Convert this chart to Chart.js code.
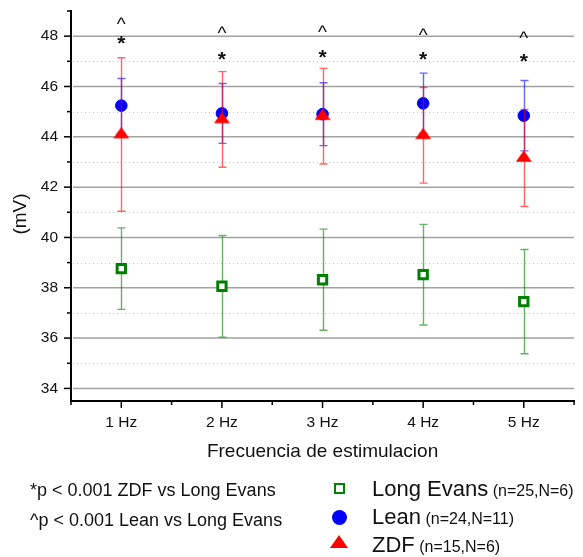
<!DOCTYPE html>
<html><head><meta charset="utf-8">
<script src="https://cdn.jsdelivr.net/npm/chart.js@4.4.1/dist/chart.umd.min.js"></script>
<style>
html,body{margin:0;padding:0;background:#fff;}
#wrap{position:relative;width:583px;height:557px;font-family:"Liberation Sans",Arial,sans-serif;color:#111;overflow:hidden;}
#c{position:absolute;left:0;top:0;}
.t{position:absolute;white-space:nowrap;line-height:1;transform:translateY(-50%);}
.note{left:30px;font-size:18px;}
.leg{left:372px;}
.big{font-size:22px;}
.small{font-size:16px;}
.mk{position:absolute;}
</style></head><body>
<div id="wrap">
<canvas id="c" width="583" height="557"></canvas>
<div class="t note" style="top:490px">*p &lt; 0.001 ZDF vs Long Evans</div>
<div class="t note" style="top:520px">^p &lt; 0.001 Lean vs Long Evans</div>
<div class="mk" style="left:334px;top:483px;width:7px;height:7px;border:2px solid #008000;background:#fff;"></div>
<div class="mk" style="left:331.5px;top:509.5px;width:15px;height:15px;border-radius:50%;background:#0000ff;"></div>
<div class="mk" style="left:330px;top:535px;width:0;height:0;border-left:9px solid transparent;border-right:9px solid transparent;border-bottom:13px solid #ff0000;"></div>
<div class="t leg" style="top:489px"><span class="big">Long Evans</span> <span class="small">(n=25,N=6)</span></div>
<div class="t leg" style="top:517px"><span class="big">Lean</span> <span class="small">(n=24,N=11)</span></div>
<div class="t leg" style="top:545px"><span class="big">ZDF</span> <span class="small">(n=15,N=6)</span></div>
</div>
<script>
// ---- data ----
const categories = ['1 Hz', '2 Hz', '3 Hz', '4 Hz', '5 Hz'];
const frequencies = [1, 2, 3, 4, 5];
const longEvansMean = [38.76, 38.06, 38.32, 38.52, 37.45];
const longEvansErr  = [1.62, 2.02, 2.01, 2.00, 2.07];
const leanMean = [45.24, 44.93, 44.90, 45.33, 44.84];
const leanErr  = [1.08, 1.19, 1.25, 1.20, 1.40];
const zdfMean = [44.09, 44.69, 44.82, 44.06, 43.16];
const zdfErr  = [3.05, 1.90, 1.90, 1.90, 1.93];
const yMajorTicks = [34, 36, 38, 40, 42, 44, 46, 48];
const yMinorTicks = [35, 37, 39, 41, 43, 45, 47, 49];
const xMinorTicks = [0.5, 1.5, 2.5, 3.5, 4.5, 5.5];
const starY  = [47.83, 47.23, 47.30, 47.23, 47.14];
const caretY = [48.62, 48.27, 48.29, 48.20, 48.07];
const yTitle = '(mV)';
const xTitle = 'Frecuencia de estimulacion';

const FF = '"Liberation Sans", Arial, sans-serif';

// triangle marker (centroid at canvas centre)
const tri = document.createElement('canvas');
tri.width = 16; tri.height = 16;
(function(){
  const g = tri.getContext('2d');
  g.fillStyle = '#ff0000';
  g.beginPath();
  g.moveTo(8, 0.4); g.lineTo(16, 11.8); g.lineTo(0, 11.8); g.closePath();
  g.fill();
})();

function pts(means){ return frequencies.map((f, i) => ({x: f, y: means[i]})); }

const decor = {
  id: 'decor',
  beforeDatasetsDraw(chart){
    const {ctx, chartArea: a, scales: {y}} = chart;
    ctx.save();
    ctx.lineWidth = 1; ctx.strokeStyle = '#c4c4c4'; ctx.setLineDash([1, 3]);
    yMinorTicks.filter(v => v < y.max).forEach(v => {
      const p = Math.round(y.getPixelForValue(v)) + 0.5;
      ctx.beginPath(); ctx.moveTo(a.left + 2, p); ctx.lineTo(a.right, p); ctx.stroke();
    });
    ctx.setLineDash([]); ctx.strokeStyle = '#a2a2a2'; ctx.lineWidth = 1.5;
    yMajorTicks.forEach(v => {
      const p = y.getPixelForValue(v);
      ctx.beginPath(); ctx.moveTo(a.left + 2, p); ctx.lineTo(a.right, p); ctx.stroke();
    });
    ctx.restore();
  },
  beforeDatasetDraw(chart, args){
    const ds = chart.data.datasets[args.index];
    const {ctx, scales: {x, y}} = chart;
    ctx.save();
    ctx.strokeStyle = ds.errorColor; ctx.lineWidth = 1.4;
    ds.data.forEach((d, i) => {
      const px = Math.round(x.getPixelForValue(d.x)) + 0.5;
      const top = y.getPixelForValue(d.y + ds.errors[i]);
      const bot = y.getPixelForValue(d.y - ds.errors[i]);
      ctx.beginPath();
      ctx.moveTo(px, top); ctx.lineTo(px, bot);
      ctx.moveTo(px - 4, top); ctx.lineTo(px + 4, top);
      ctx.moveTo(px - 4, bot); ctx.lineTo(px + 4, bot);
      ctx.stroke();
    });
    ctx.restore();
  },
  afterDraw(chart){
    const {ctx, chartArea: a, scales: {x, y}} = chart;
    ctx.save();
    ctx.strokeStyle = '#000'; ctx.lineWidth = 1.5;
    yMajorTicks.forEach(v => { const p = y.getPixelForValue(v); ctx.beginPath(); ctx.moveTo(a.left - 7, p); ctx.lineTo(a.left, p); ctx.stroke(); });
    yMinorTicks.forEach(v => { const p = y.getPixelForValue(v); ctx.beginPath(); ctx.moveTo(a.left - 4, p); ctx.lineTo(a.left, p); ctx.stroke(); });
    frequencies.forEach(v => { const p = x.getPixelForValue(v); ctx.beginPath(); ctx.moveTo(p, a.bottom); ctx.lineTo(p, a.bottom + 7); ctx.stroke(); });
    xMinorTicks.forEach(v => { const p = x.getPixelForValue(v); ctx.beginPath(); ctx.moveTo(p, a.bottom); ctx.lineTo(p, a.bottom + 4); ctx.stroke(); });
    // significance marks
    ctx.fillStyle = '#111';
    ctx.textAlign = 'center'; ctx.textBaseline = 'alphabetic';
    const mark = (ch, font, xv, yv) => {
      ctx.font = font;
      const m = ctx.measureText(ch);
      const c = (m.actualBoundingBoxAscent - m.actualBoundingBoxDescent) / 2;
      ctx.fillText(ch, x.getPixelForValue(xv), y.getPixelForValue(yv) + c);
    };
    frequencies.forEach((f, i) => {
      mark('*', 'bold 21px ' + FF, f, starY[i]);
      mark('^', '19px ' + FF, f, caretY[i]);
    });
    // y axis title
    ctx.font = '19px ' + FF;
    ctx.textAlign = 'center'; ctx.textBaseline = 'middle';
    ctx.translate(20.5, 214);
    ctx.rotate(-Math.PI / 2);
    ctx.fillText(yTitle, 0, 0);
    ctx.restore();
  }
};

new Chart(document.getElementById('c'), {
  type: 'scatter',
  data: {
    datasets: [
      {label: 'ZDF', data: pts(zdfMean), errors: zdfErr, errorColor: 'rgba(255,0,0,0.6)',
       pointStyle: tri, order: 0},
      {label: 'Lean', data: pts(leanMean), errors: leanErr, errorColor: 'rgba(0,0,255,0.6)',
       pointStyle: 'circle', pointRadius: 5.8, pointBorderWidth: 1, backgroundColor: '#0000ff', borderColor: '#0000ff', order: 1},
      {label: 'Long Evans', data: pts(longEvansMean), errors: longEvansErr, errorColor: 'rgba(0,128,0,0.6)',
       pointStyle: 'rect', pointRadius: 5.9, pointBorderWidth: 3, backgroundColor: '#ffffff', borderColor: '#008000', order: 2}
    ]
  },
  options: {
    responsive: false, animation: false, devicePixelRatio: 1, events: [],
    layout: {padding: {left: 0, right: 5, top: 11, bottom: 94}},
    plugins: {legend: {display: false}, tooltip: {enabled: false}},
    scales: {
      x: {
        type: 'linear', min: 0.5, max: 5.5,
        afterBuildTicks: s => { s.ticks = frequencies.map(v => ({value: v})); },
        afterFit: s => { s.height = 62; s.paddingLeft = 0; s.paddingRight = 0; },
        grid: {display: false, drawTicks: false},
        border: {display: true, color: '#000', width: 2},
        ticks: {padding: 12, color: '#111', font: {size: 15.5, family: FF},
                callback: v => categories[frequencies.indexOf(v)]},
        title: {display: true, text: xTitle, color: '#111', padding: 0,
                font: {size: 19, family: FF}}
      },
      y: {
        min: 33.5, max: 49,
        afterBuildTicks: s => { s.ticks = yMajorTicks.map(v => ({value: v})); },
        afterFit: s => { s.width = 71; s.paddingTop = 0; s.paddingBottom = 0; },
        grid: {display: false, drawTicks: false},
        border: {display: true, color: '#000', width: 2},
        ticks: {padding: 13, color: '#111', font: {size: 15.5, family: FF}},
        title: {display: false}
      }
    }
  },
  plugins: [decor]
});
</script>
</body></html>
